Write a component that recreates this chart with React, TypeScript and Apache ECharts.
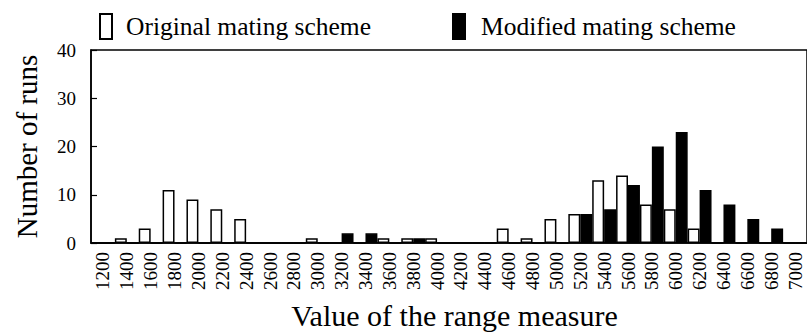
import React, { useEffect, useRef } from "react";
import * as echarts from "echarts";

// Range-measure bins (category axis)
const rangeBins = [
  "1200", "1400", "1600", "1800", "2000", "2200", "2400", "2600", "2800", "3000",
  "3200", "3400", "3600", "3800", "4000", "4200", "4400", "4600", "4800", "5000",
  "5200", "5400", "5600", "5800", "6000", "6200", "6400", "6600", "6800", "7000",
];

// Number of runs per bin
const originalRuns = [
  0, 1, 3, 11, 9, 7, 5, 0, 0, 1,
  0, 0, 1, 1, 1, 0, 0, 3, 1, 5,
  6, 13, 14, 8, 7, 3, 0, 0, 0, 0,
];
const modifiedRuns = [
  0, 0, 0, 0, 0, 0, 0, 0, 0, 0,
  2, 2, 0, 1, 0, 0, 0, 0, 0, 0,
  6, 7, 12, 20, 23, 11, 8, 5, 3, 0,
];

const seriesNames = ["Original mating scheme", "Modified mating scheme"];
const yTicks = { min: 0, max: 40, interval: 10 };

const FONT = "Liberation Serif";

export default function App() {
  const ref = useRef<HTMLDivElement>(null);

  useEffect(() => {
    if (!ref.current) return;
    const chart = echarts.init(ref.current, undefined, { renderer: "svg" });
    chart.setOption({
      animation: false,
      backgroundColor: "#fff",
      textStyle: { fontFamily: FONT, color: "#000" },
      legend: [
        {
          data: [seriesNames[0]],
          left: 99,
          top: 13,
          padding: 0,
          icon: "rect",
          itemWidth: 12,
          itemHeight: 25,
          textStyle: { fontFamily: FONT, fontSize: 25.5, color: "#000", padding: [0, 0, 0, 9] },
        },
        {
          data: [seriesNames[1]],
          left: 452,
          top: 13,
          padding: 0,
          icon: "rect",
          itemWidth: 12,
          itemHeight: 25,
          textStyle: { fontFamily: FONT, fontSize: 25.5, color: "#000", padding: [0, 0, 0, 11] },
        },
      ],
      grid: {
        left: 91,
        top: 50,
        right: -6,
        bottom: 93,
        show: true,
        borderColor: "#000",
        borderWidth: 1.5,
        containLabel: false,
      },
      xAxis: {
        type: "category",
        data: rangeBins,
        boundaryGap: true,
        name: "Value of the range measure",
        nameLocation: "middle",
        nameGap: 57,
        nameTextStyle: { fontFamily: FONT, fontSize: 30, color: "#000", padding: [0, 0, 0, 11] },
        axisLine: { lineStyle: { color: "#000", width: 1.5 } },
        axisTick: { inside: true, length: 6, interval: 0, lineStyle: { color: "#000", width: 1.2 } },
        axisLabel: {
          interval: 0,
          rotate: 90,
          margin: 9,
          fontFamily: FONT,
          fontSize: 19,
          color: "#000",
        },
        splitLine: { show: false },
      },
      yAxis: {
        type: "value",
        min: yTicks.min,
        max: yTicks.max,
        interval: yTicks.interval,
        name: "Number of runs",
        nameLocation: "middle",
        nameGap: 50,
        nameTextStyle: { fontFamily: FONT, fontSize: 29, color: "#000" },
        axisLine: { show: true, lineStyle: { color: "#000", width: 1.5 } },
        axisTick: { show: true, inside: true, length: 6, lineStyle: { color: "#000", width: 1.2 } },
        axisLabel: { margin: 15, fontFamily: FONT, fontSize: 19, color: "#000" },
        splitLine: { show: false },
      },
      series: [
        {
          name: seriesNames[0],
          type: "bar",
          data: originalRuns,
          barGap: "0%",
          barCategoryGap: "0%",
          itemStyle: { color: "#fff", borderColor: "#000", borderWidth: 1.5 },
        },
        {
          name: seriesNames[1],
          type: "bar",
          data: modifiedRuns,
          barGap: "0%",
          barCategoryGap: "0%",
          itemStyle: { color: "#000", borderColor: "#000", borderWidth: 1.5 },
        },
      ],
    });
    return () => chart.dispose();
  }, []);

  return (
    <div
      ref={ref}
      style={{ position: "fixed", left: 0, top: 0, width: 807, height: 336, background: "#fff" }}
    />
  );
}
